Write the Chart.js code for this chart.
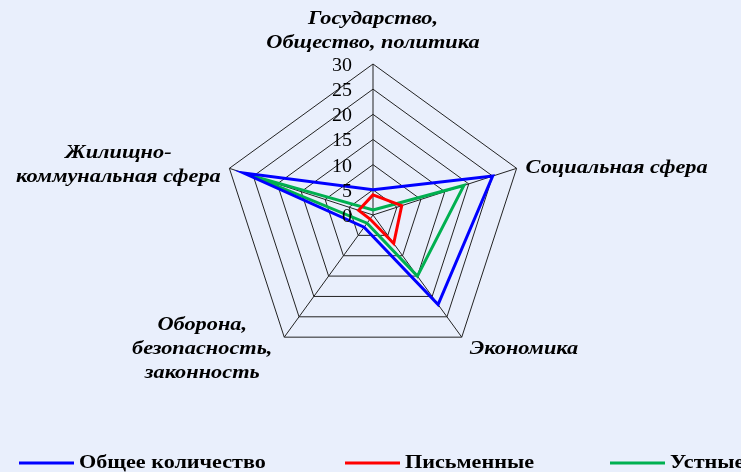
<!DOCTYPE html>
<html lang="ru">
<head>
<meta charset="utf-8">
<title>Обращения граждан по тематике</title>
<script src="https://cdn.jsdelivr.net/npm/chart.js@4/dist/chart.umd.min.js"></script>
<style>
    html, body { margin: 0; padding: 0; background: #e9effc; }
    #radar { display: block; }
</style>
</head>
<body>
<canvas id="radar" width="741" height="472"></canvas>
<script>
// Тематика обращений
const categories = [
    ['Государство,', 'Общество, политика'],
    ['Социальная сфера'],
    ['Экономика'],
    ['Оборона,', 'безопасность,', 'законность'],
    ['Жилищно-', 'коммунальная сфера']
];

const seriesNames = ['Общее количество', 'Письменные', 'Устные'];
const totalValues = [5, 25, 22, 3, 27];
const writtenValues = [4, 6, 7, 1, 3];
const oralValues = [1, 19, 15, 2, 25];
const tickValues = [0, 5, 10, 15, 20, 25, 30];

const colors = ['#0000ff', '#ff0000', '#00b050'];
const serif = '"Liberation Serif", "Times New Roman", serif';

// сдвиг подписей осей относительно вершины и выравнивание
const labelPlace = [
    { dx: 0, dy: -45, align: 'center' },
    { dx: 9, dy: 0, align: 'left' },
    { dx: 8, dy: 12, align: 'left' },
    { dx: -82, dy: -12, align: 'center' },
    { dx: -111, dy: -15, align: 'center' }
];

// текст, растянутый по горизонтали
function wideText(ctx, text, x, y, align, sx) {
    ctx.save();
    ctx.translate(x, y);
    ctx.scale(sx, 1);
    ctx.textAlign = align;
    ctx.fillText(text, 0, 0);
    ctx.restore();
}

// подписи осей и шкалы
const radarLabels = {
    id: 'radarLabels',
    afterDraw(chart) {
        const ctx = chart.ctx;
        const scale = chart.scales.r;
        ctx.save();
        ctx.fillStyle = '#000';
        ctx.textBaseline = 'middle';

        ctx.font = '19px ' + serif;
        tickValues.forEach(v => {
            const d = scale.getDistanceFromCenterForValue(v);
            wideText(ctx, String(v), scale.xCenter - 21, scale.yCenter - d + 2, 'right', 1.05);
        });

        ctx.font = 'italic bold 18px ' + serif;
        categories.forEach((lines, i) => {
            const p = scale.getPointPosition(i, scale.drawingArea);
            const place = labelPlace[i];
            lines.forEach((line, k) => {
                wideText(ctx, line, p.x + place.dx, p.y + place.dy + k * 24, place.align, 1.24);
            });
        });
        ctx.restore();
    }
};

// легенда внизу
const bottomLegend = {
    id: 'bottomLegend',
    afterDraw(chart) {
        const ctx = chart.ctx;
        const startX = [19, 345, 610];
        const y = 463;
        ctx.save();
        ctx.font = 'bold 18px ' + serif;
        ctx.textBaseline = 'middle';
        chart.data.datasets.forEach((ds, i) => {
            ctx.strokeStyle = ds.borderColor;
            ctx.lineWidth = 3;
            ctx.beginPath();
            ctx.moveTo(startX[i], y);
            ctx.lineTo(startX[i] + 55, y);
            ctx.stroke();
            ctx.fillStyle = '#000';
            wideText(ctx, ds.label, startX[i] + 60, y, 'left', 1.23);
        });
        ctx.restore();
    }
};

const ctx = document.getElementById('radar').getContext('2d');
const chart = new Chart(ctx, {
    type: 'radar',
    data: {
        labels: categories,
        datasets: [
            { label: seriesNames[0], data: totalValues, borderColor: colors[0] },
            { label: seriesNames[1], data: writtenValues, borderColor: colors[1] },
            { label: seriesNames[2], data: oralValues, borderColor: colors[2] }
        ]
    },
    options: {
        responsive: false,
        animation: false,
        layout: {
            padding: { left: 222, right: 217, top: 64, bottom: 106 }
        },
        elements: {
            line: { borderWidth: 3, fill: false, tension: 0 },
            point: { radius: 0, hoverRadius: 0 }
        },
        plugins: {
            legend: { display: false },
            tooltip: { enabled: false }
        },
        scales: {
            r: {
                min: 0,
                max: 30,
                ticks: { stepSize: 5, display: false },
                grid: { color: '#222', lineWidth: 1 },
                angleLines: { color: '#222', lineWidth: 1 },
                pointLabels: { display: false }
            }
        }
    },
    plugins: [radarLabels, bottomLegend]
});
</script>
</body>
</html>
